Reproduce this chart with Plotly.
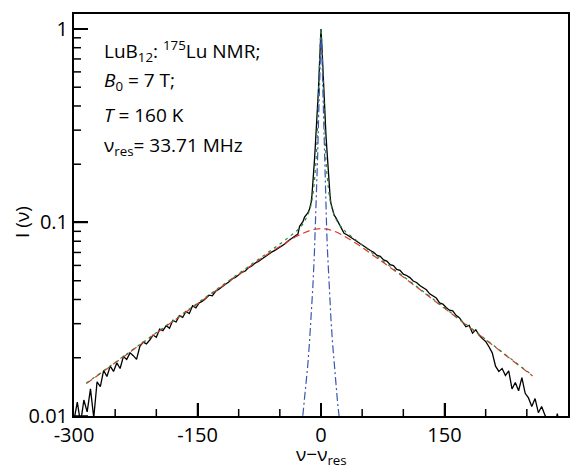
import plotly.graph_objects as go

# ---------------- data ----------------
# measured spectrum (black, noisy)
spec_x = [-300, -296, -292, -288, -284, -280, -276, -272, -268, -264, -260, -256, -252, -248, -244,
          -240, -236, -232, -228, -224, -220, -216, -212, -208, -204, -200, -196, -192, -188, -184,
          -180, -176, -172, -168, -164, -160, -156, -152, -148, -144, -140, -136, -132, -128, -124,
          -120, -116, -112, -108, -104, -100, -96, -92, -88, -84, -80, -76, -72, -68, -64,
          -60, -56, -52, -48, -44, -40, -36, -32, -28,
          -26, -24, -22, -20, -18, -16, -14, -12, -11, -10, -9, -8, -7, -6, -5, -4, -3, -2, -1,
          0, 1, 2, 3, 4, 5, 6, 7, 8, 9, 10, 11, 12, 14, 16, 18, 20, 22, 24, 26,
          28, 32, 36, 40, 44, 48, 52, 56, 60, 64, 68, 72, 76, 80, 84, 88, 92, 96, 100,
          104, 108, 112, 116, 120, 124, 128, 132, 136, 140, 144, 148, 152, 156, 160,
          164, 168, 172, 176, 180, 184, 188, 192, 196, 200, 204, 208, 212, 216, 220,
          224, 228, 232, 236, 240, 244, 248, 252, 256, 260, 264, 268, 272, 276, 280,
          284, 287, 290]
spec_y = [0.0095, 0.0118, 0.0092, 0.0121, 0.0105, 0.0138, 0.0098, 0.0150, 0.0142, 0.0172, 0.0160, 0.0181, 0.0170, 0.0188, 0.0176,
          0.0203, 0.0196, 0.0212, 0.0205, 0.0196, 0.0229, 0.0241, 0.0236, 0.0247, 0.0262, 0.0255, 0.0281, 0.0276, 0.0293, 0.0284,
          0.0312, 0.0306, 0.0330, 0.0323, 0.0347, 0.0338, 0.0371, 0.0362, 0.0384, 0.0392, 0.0405, 0.0421, 0.0418, 0.0441, 0.0452,
          0.0468, 0.0480, 0.0492, 0.0511, 0.0520, 0.0538, 0.0553, 0.0561, 0.0585, 0.0596, 0.0617, 0.0629, 0.0647, 0.0668, 0.0681,
          0.0703, 0.0718, 0.0736, 0.0762, 0.0774, 0.0802, 0.0823, 0.0851, 0.0872,
          0.0955, 0.0978, 0.1010, 0.1065, 0.1090, 0.1120, 0.1170, 0.1270, 0.1380, 0.1540, 0.1780, 0.2080, 0.2450, 0.2850, 0.3300, 0.4000, 0.4950, 0.6300, 0.8200,
          1.0000, 0.8300, 0.6400, 0.5000, 0.4050, 0.3350, 0.2850, 0.2450, 0.2060, 0.1760, 0.1530, 0.1370, 0.1260, 0.1150, 0.1090, 0.1060, 0.1020, 0.0990, 0.0945, 0.0915,
          0.0880, 0.0862, 0.0839, 0.0818, 0.0797, 0.0771, 0.0752, 0.0738, 0.0716, 0.0702, 0.0676, 0.0668, 0.0641, 0.0632, 0.0605, 0.0598, 0.0572, 0.0566, 0.0541,
          0.0532, 0.0519, 0.0498, 0.0490, 0.0472, 0.0458, 0.0449, 0.0428, 0.0419, 0.0407, 0.0384, 0.0379, 0.0364, 0.0352, 0.0349,
          0.0331, 0.0322, 0.0306, 0.0289, 0.0294, 0.0268, 0.0279, 0.0262, 0.0251, 0.0243, 0.0228, 0.0212, 0.0181, 0.0170, 0.0176,
          0.0162, 0.0171, 0.0138, 0.0149, 0.0135, 0.0158, 0.0131, 0.0124, 0.0112, 0.0123, 0.0104, 0.0112, 0.0101, 0.0094, 0.0097,
          0.0088, 0.0103, 0.0088]

# fit curves
fit_x = [-285, -270, -255, -240, -225, -210, -195, -180, -165, -150, -135, -120, -105, -90, -75, -60, -45, -30,
         -24, -20, -16, -14, -12, -10, -8, -7, -6, -5, -4, -3, -2, -1, 0, 1, 2, 3, 4, 5, 6, 7, 8, 10, 12, 14, 16, 20, 24,
         30, 45, 60, 75, 90, 105, 120, 135, 150, 165, 180, 195, 210, 225, 240, 257]
broad_fit = [0.0147, 0.0163, 0.0182, 0.0202, 0.0225, 0.0250, 0.0278, 0.0309, 0.0344, 0.0382, 0.0424, 0.0471, 0.0522, 0.0579, 0.0641, 0.0708, 0.0778, 0.0848,
             0.0872, 0.0889, 0.0903, 0.0909, 0.0915, 0.0919, 0.0923, 0.0925, 0.0926, 0.0928, 0.0929, 0.0930, 0.0931, 0.0931, 0.0931, 0.0931, 0.0931, 0.0930, 0.0929, 0.0928, 0.0926, 0.0925, 0.0923, 0.0918, 0.0914, 0.0907, 0.0901, 0.0887, 0.0870,
             0.0841, 0.0769, 0.0695, 0.0625, 0.0562, 0.0504, 0.0451, 0.0403, 0.0361, 0.0322, 0.0288, 0.0257, 0.0230, 0.0205, 0.0183, 0.0161]
total_fit = [0.0148, 0.0164, 0.0183, 0.0203, 0.0226, 0.0251, 0.0279, 0.0310, 0.0346, 0.0384, 0.0427, 0.0474, 0.0526, 0.0585, 0.0650, 0.0721, 0.0802, 0.0901,
             0.0955, 0.1008, 0.1087, 0.1148, 0.1237, 0.1376, 0.1618, 0.1812, 0.2092, 0.2518, 0.3189, 0.4300, 0.6111, 0.8581, 1.0031, 0.8581, 0.6111, 0.4300, 0.3189, 0.2518, 0.2092, 0.1812, 0.1618, 0.1375, 0.1236, 0.1146, 0.1085, 0.1006, 0.0953,
             0.0894, 0.0793, 0.0708, 0.0634, 0.0568, 0.0508, 0.0454, 0.0406, 0.0363, 0.0324, 0.0289, 0.0258, 0.0231, 0.0206, 0.0184, 0.0162]
narrow_x = [-24, -20, -16, -14, -12, -10, -8, -7, -6, -5, -4, -3, -2, -1, 0, 1, 2, 3, 4, 5, 6, 7, 8, 10, 12, 14, 16, 20, 24]
narrow_fit = [0.0083, 0.0119, 0.0184, 0.0239, 0.0322, 0.0457, 0.0695, 0.0887, 0.1166, 0.159, 0.226, 0.337, 0.518, 0.765, 0.910,
              0.765, 0.518, 0.337, 0.226, 0.159, 0.1166, 0.0887, 0.0695, 0.0457, 0.0322, 0.0239, 0.0184, 0.0119, 0.0083]

# tick positions and labels
x_ticks = [-300, -150, 0, 150, 300]
x_ticklabels = ["-300", "-150", "0", "150", "300"]
x_minor = [-250, -200, -100, -50, 50, 100, 200, 250]
y_ticks = [0.01, 0.1, 1]
y_ticklabels = ["0.01", "0.1", "1"]
y_minor = [0.02, 0.03, 0.04, 0.05, 0.06, 0.07, 0.08, 0.09, 0.2, 0.3, 0.4, 0.5, 0.6, 0.7, 0.8, 0.9]

info_lines = ["LuB<sub>12</sub>: <sup>175</sup>Lu NMR;",
              "<i>B</i><sub>0</sub> = 7 T;",
              "<i>T</i> = 160 K",
              "ν<sub>res</sub>= 33.71 MHz"]

X_RANGE = [-300, 300]
Y_RANGE_LOG = [-2, 0.0773]

# ---------------- figure ----------------
FONT = "Open Sans"
W, H = 584, 470
M = dict(l=74, r=16, t=14, b=54)
PW = W - M["l"] - M["r"]
PH = H - M["t"] - M["b"]
X_SPAN = X_RANGE[1] - X_RANGE[0]
Y_SPAN = Y_RANGE_LOG[1] - Y_RANGE_LOG[0]
Y_BOTTOM = 10 ** Y_RANGE_LOG[0]


def x_tick_marks(vals, length_px):
    """Vertical inward tick segments on the bottom axis (axis decoration)."""
    xs, ys = [], []
    top = Y_BOTTOM * 10 ** (length_px / PH * Y_SPAN)
    for v in vals:
        xs += [v, v, None]
        ys += [Y_BOTTOM, top, None]
    return xs, ys


def y_tick_marks(vals, length_px):
    """Horizontal inward tick segments on the left axis (axis decoration)."""
    xs, ys = [], []
    right = X_RANGE[0] + length_px / PW * X_SPAN
    for v in vals:
        xs += [X_RANGE[0], right, None]
        ys += [v, v, None]
    return xs, ys


fig = go.Figure()
fig.add_trace(go.Scatter(x=spec_x, y=spec_y, mode="lines",
                         line=dict(color="black", width=1.3)))
fig.add_trace(go.Scatter(x=fit_x, y=broad_fit, mode="lines",
                         line=dict(color="#e0352b", width=1.2, dash="7px,4px")))
fig.add_trace(go.Scatter(x=fit_x, y=total_fit, mode="lines",
                         line=dict(color="#2a8a3c", width=1.2, dash="3px,4px")))
fig.add_trace(go.Scatter(x=narrow_x, y=narrow_fit, mode="lines",
                         line=dict(color="#3a56b0", width=1.2, dash="8px,3px,2px,3px")))

tick_line = dict(color="black", width=1.5)
for xs, ys in [x_tick_marks(x_ticks[1:-1], 13), x_tick_marks(x_minor, 7),
               y_tick_marks(y_ticks, 14), y_tick_marks(y_minor, 7)]:
    fig.add_trace(go.Scatter(x=xs, y=ys, mode="lines", line=tick_line,
                             hoverinfo="skip", connectgaps=False))

fig.update_layout(
    width=W, height=H,
    margin=M,
    paper_bgcolor="white", plot_bgcolor="white",
    showlegend=False,
    font=dict(family=FONT, size=20, color="black"),
    xaxis=dict(range=X_RANGE, tickmode="array", tickvals=x_ticks, ticktext=x_ticklabels,
               ticks="inside", ticklen=13, tickwidth=1.5, tickcolor="black",
               showline=True, linewidth=2, linecolor="black", mirror=True,
               showgrid=False, zeroline=False,
               tickfont=dict(family=FONT, size=20)),
    yaxis=dict(type="log", range=Y_RANGE_LOG, tickmode="array", tickvals=y_ticks, ticktext=y_ticklabels,
               ticks="inside", ticklen=14, tickwidth=1.5, tickcolor="black",
               showline=True, linewidth=2, linecolor="black", mirror=True,
               showgrid=False, zeroline=False,
               tickfont=dict(family=FONT, size=20)),
)

line_y = [0.908, 0.834, 0.748, 0.672]
for txt, yy in zip(info_lines, line_y):
    fig.add_annotation(text=txt, xref="paper", yref="paper", x=0.057, y=yy,
                       xanchor="left", yanchor="middle", showarrow=False,
                       font=dict(family=FONT, size=19, color="black"))

fig.add_annotation(text="I (ν)", xref="paper", yref="paper", x=-0.105, y=0.483,
                   xanchor="center", yanchor="middle", textangle=-90, showarrow=False,
                   font=dict(family=FONT, size=19, color="black"))
fig.add_annotation(text="ν−ν<sub>res</sub>", xref="paper", yref="paper", x=0.5, y=-0.056,
                   xanchor="center", yanchor="top", showarrow=False,
                   font=dict(family=FONT, size=19, color="black"))

fig.write_html("out.html")
